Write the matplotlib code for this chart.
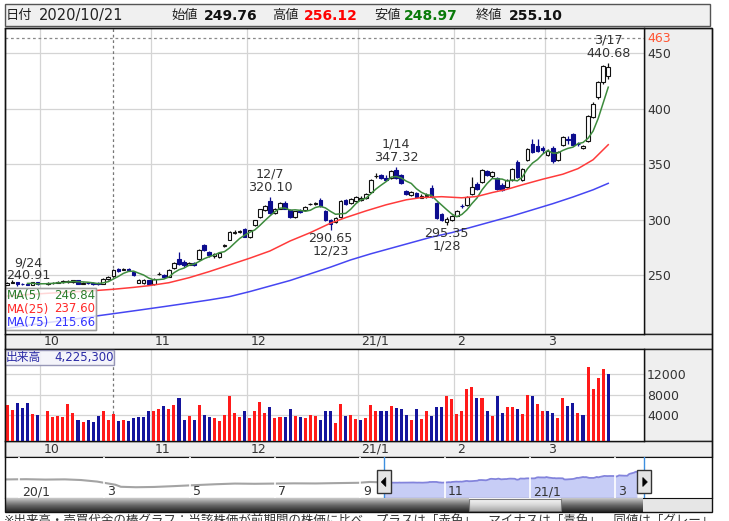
import numpy as np
import pandas as pd
import matplotlib
matplotlib.use('Agg')
import matplotlib.pyplot as plt
from matplotlib.patches import Rectangle, Polygon
from matplotlib.colors import LinearSegmentedColormap

plt.rcParams['font.family'] = ['DejaVu Sans', 'Noto Sans CJK JP']

# 日足（チャートから読み取り、10/1 は終日売買停止で値なし）
dates = [
    '2020-09-18', '2020-09-23', '2020-09-24', '2020-09-25', '2020-09-28', '2020-09-29', '2020-09-30',
    '2020-10-01', '2020-10-02', '2020-10-05', '2020-10-06', '2020-10-07', '2020-10-08', '2020-10-09',
    '2020-10-12', '2020-10-13', '2020-10-14', '2020-10-15', '2020-10-16', '2020-10-19', '2020-10-20',
    '2020-10-21', '2020-10-22', '2020-10-23', '2020-10-26', '2020-10-27', '2020-10-28', '2020-10-29',
    '2020-10-30',
    '2020-11-02', '2020-11-04', '2020-11-05', '2020-11-06', '2020-11-09', '2020-11-10', '2020-11-11',
    '2020-11-12', '2020-11-13', '2020-11-16', '2020-11-17', '2020-11-18', '2020-11-19', '2020-11-20',
    '2020-11-24', '2020-11-25', '2020-11-26', '2020-11-27', '2020-11-30',
    '2020-12-01', '2020-12-02', '2020-12-03', '2020-12-04', '2020-12-07', '2020-12-08', '2020-12-09',
    '2020-12-10', '2020-12-11', '2020-12-14', '2020-12-15', '2020-12-16', '2020-12-17', '2020-12-18',
    '2020-12-21', '2020-12-22', '2020-12-23', '2020-12-24', '2020-12-25', '2020-12-28', '2020-12-29',
    '2020-12-30',
    '2021-01-04', '2021-01-05', '2021-01-06', '2021-01-07', '2021-01-08', '2021-01-12', '2021-01-13',
    '2021-01-14', '2021-01-15', '2021-01-18', '2021-01-19', '2021-01-20', '2021-01-21', '2021-01-22',
    '2021-01-25', '2021-01-26', '2021-01-27', '2021-01-28', '2021-01-29',
    '2021-02-01', '2021-02-02', '2021-02-03', '2021-02-04', '2021-02-05', '2021-02-08', '2021-02-09',
    '2021-02-10', '2021-02-12', '2021-02-15', '2021-02-16', '2021-02-17', '2021-02-18', '2021-02-19',
    '2021-02-22', '2021-02-24', '2021-02-25', '2021-02-26',
    '2021-03-01', '2021-03-02', '2021-03-03', '2021-03-04', '2021-03-05', '2021-03-08', '2021-03-09',
    '2021-03-10', '2021-03-11', '2021-03-12', '2021-03-15', '2021-03-16', '2021-03-17',
]
opens = [
    241.5, 243.5, 244.0, 242.5, 242.5, 241.8, 244.0,
    None, 242.3, 243.0, 243.5, 244.0, 244.5, 243.8, 245.5, 242.5, 243.5, 243.2, 243.0, 242.5, 246.5,
    249.76, 255.5, 255.0, 255.8, 253.0, 243.5, 243.0, 245.5,
    242.5, 251.0, 250.5, 249.0, 256.5, 265.0, 262.0, 259.5, 261.0, 264.5, 277.5, 271.0, 267.5, 266.5,
    276.5, 282.0, 288.5, 289.0, 291.5,
    285.0, 295.0, 302.5, 309.0, 316.5, 306.5, 310.0, 315.5, 308.5, 302.5, 308.0, 308.5, 314.0, 314.5,
    318.0, 307.5, 299.5, 298.0, 302.5, 318.0, 315.0, 316.5,
    318.0, 319.5, 325.0, 339.0, 340.0, 338.0, 337.5, 345.0, 340.0, 326.0, 322.0, 324.0, 320.0, 321.0,
    329.0, 315.0, 305.0, 298.0, 300.0,
    303.5, 312.5, 313.0, 323.5, 332.5, 334.0, 343.5, 339.0, 337.5, 331.0, 329.5, 335.5, 352.0, 336.0,
    353.5, 368.0, 366.5, 364.5,
    358.5, 365.0, 353.5, 367.5, 372.5, 377.0, 368.5, 364.5, 370.5, 392.5, 410.5, 424.0, 429.0,
]
highs = [
    244.0, 245.5, 244.5, 243.5, 243.0, 244.5, 244.5,
    None, 243.8, 244.5, 244.8, 245.5, 246.0, 246.0, 246.0, 244.0, 244.5, 243.8, 244.0, 247.5, 249.5,
    256.12, 256.5, 257.0, 257.0, 254.0, 247.0, 246.5, 246.0,
    247.5, 253.0, 251.5, 255.5, 262.0, 271.0, 263.5, 262.5, 262.0, 274.0, 278.5, 272.0, 270.0, 271.0,
    278.5, 290.0, 290.5, 291.0, 292.5,
    291.0, 300.0, 310.0, 313.0, 320.10, 310.5, 316.0, 316.5, 309.5, 308.0, 309.5, 312.0, 315.5, 316.0,
    319.5, 308.5, 300.5, 302.5, 318.0, 319.0, 319.5, 321.0,
    321.5, 324.5, 336.5, 342.0, 341.5, 340.0, 345.0, 347.32, 341.0, 327.0, 326.0, 325.0, 323.0, 324.0,
    331.0, 316.0, 306.0, 302.5, 304.0,
    309.0, 314.0, 321.0, 338.5, 334.0, 345.5, 345.0, 344.0, 338.5, 333.0, 336.5, 347.0, 353.5, 347.0,
    365.0, 373.0, 373.0, 366.5,
    364.0, 366.0, 362.0, 375.0, 375.0, 378.0, 369.5, 367.0, 394.0, 405.5, 425.0, 439.5, 440.68,
]
lows = [
    241.0, 243.0, 240.91, 241.2, 241.3, 241.5, 241.8,
    None, 241.6, 242.5, 242.8, 243.5, 243.0, 243.2, 242.0, 242.0, 242.0, 241.5, 241.4, 242.0, 246.0,
    248.97, 253.0, 254.5, 254.5, 249.5, 243.0, 242.5, 241.3,
    241.5, 250.0, 247.5, 248.5, 256.0, 259.5, 258.0, 259.0, 258.5, 264.0, 272.0, 267.0, 266.0, 266.0,
    275.5, 281.5, 287.0, 288.0, 284.5,
    284.0, 294.5, 302.0, 308.0, 305.0, 305.0, 309.5, 309.5, 301.5, 301.5, 306.0, 308.0, 313.0, 313.5,
    311.5, 299.0, 290.65, 297.0, 302.0, 313.5, 314.0, 316.0,
    316.5, 318.5, 324.5, 337.5, 336.5, 334.5, 337.0, 337.0, 332.0, 322.5, 321.5, 319.5, 319.5, 320.0,
    319.5, 301.0, 299.0, 295.35, 299.0,
    303.0, 310.5, 312.5, 322.5, 327.0, 333.5, 339.5, 338.0, 327.0, 326.0, 328.5, 334.5, 337.5, 335.0,
    352.5, 360.0, 361.0, 360.0,
    357.5, 351.0, 352.5, 366.5, 368.0, 366.5, 366.0, 363.5, 369.5, 391.5, 409.0, 422.0, 427.0,
]
closes = [
    243.5, 244.5, 242.5, 242.0, 241.8, 244.0, 242.2,
    None, 243.0, 243.6, 244.2, 244.6, 245.0, 245.5, 242.5, 243.5, 243.0, 242.3, 241.9, 246.4, 248.5,
    255.10, 254.0, 255.5, 255.0, 250.0, 246.0, 245.5, 242.0,
    246.5, 251.5, 248.5, 254.8, 261.0, 260.0, 259.0, 261.5, 259.5, 273.0, 272.5, 268.0, 269.0, 270.0,
    277.5, 289.0, 289.5, 290.0, 285.0,
    290.5, 299.5, 309.5, 312.0, 306.0, 309.5, 315.5, 310.0, 302.5, 307.5, 307.0, 311.5, 314.5, 315.0,
    312.5, 300.0, 296.0, 301.5, 317.0, 314.5, 318.5, 320.5,
    319.5, 323.5, 335.5, 339.5, 337.5, 335.5, 344.0, 338.0, 333.0, 323.5, 325.0, 320.5, 321.5, 322.5,
    320.5, 302.0, 300.0, 301.0, 303.0,
    308.0, 312.0, 320.5, 329.5, 328.0, 344.5, 340.5, 343.0, 328.0, 327.0, 335.5, 346.0, 338.5, 345.5,
    364.0, 361.0, 362.0, 362.5,
    362.0, 352.5, 361.0, 374.0, 371.5, 367.5, 368.0, 366.5, 393.0, 404.0, 423.5, 438.5, 437.0,
]
prev_close = 242.0  # 9/17 終値

# 出来高（千株）
volumes = [
    6070, 4970, 6450, 5420, 6450, 4140, 4070,
    None, 4720, 3680, 3880, 3680, 6260, 4520, 2980, 2590, 2980, 2590, 3940, 4720, 2980,
    4225.3, 2780, 2980, 2780, 3430, 3680, 3680, 4720,
    4720, 5170, 5810, 5170, 6070, 7360, 2980, 3880, 2980, 6070, 4070, 3680, 3430, 2780,
    4070, 7740, 4330, 3680, 4720,
    3430, 4910, 6650, 4520, 5680, 3430, 3680, 3680, 5170, 3880, 3680, 3430, 4070, 3940,
    2980, 4720, 4910, 2530, 6260, 3940, 4070, 3170,
    2980, 3430, 6000, 4720, 4720, 4910, 5810, 5420, 5170, 4070, 2980, 5170, 3170, 4720,
    3940, 5620, 5620, 7740, 7100,
    4260, 4910, 9090, 9480, 7360, 7360, 4720, 3880, 7740, 4520, 5620, 5620, 5170, 4260,
    8000, 7740, 6260, 4910,
    4910, 4460, 3430, 7360, 5810, 6450, 4520, 4070, 13410, 9090, 11220, 12960, 12060,
]

# 移動平均（25日・75日）はチャートの線から読み取り
ma25_dates = ['2020-09-18', '2020-09-28', '2020-10-02', '2020-10-08', '2020-10-15', '2020-10-21',
              '2020-10-27', '2020-10-30', '2020-11-06', '2020-11-12', '2020-11-18', '2020-11-25',
              '2020-12-01', '2020-12-07', '2020-12-11', '2020-12-17', '2020-12-23', '2020-12-28',
              '2021-01-05', '2021-01-12', '2021-01-18', '2021-01-21', '2021-01-27', '2021-02-02',
              '2021-02-05', '2021-02-10', '2021-02-16', '2021-02-19', '2021-02-26', '2021-03-04',
              '2021-03-09', '2021-03-12', '2021-03-17']
ma25_vals = [231.5, 232.8, 234.0, 235.0, 236.3, 237.6, 239.3, 240.8, 243.5, 248.0, 253.5, 259.5,
             265.5, 272.0, 281.0, 288.5, 297.0, 302.0, 308.0, 313.5, 318.0, 320.0, 320.8, 319.8,
             321.0, 324.5, 327.5, 331.5, 336.5, 341.0, 346.0, 354.0, 367.5]
ma75_dates = ['2020-09-18', '2020-09-30', '2020-10-08', '2020-10-15', '2020-10-21', '2020-10-28',
              '2020-11-05', '2020-11-12', '2020-11-18', '2020-11-25', '2020-12-01', '2020-12-07',
              '2020-12-11', '2020-12-17', '2020-12-23', '2020-12-29', '2021-01-06', '2021-01-13',
              '2021-01-19', '2021-01-25', '2021-01-29', '2021-02-04', '2021-02-10', '2021-02-17',
              '2021-02-24', '2021-03-02', '2021-03-08', '2021-03-12', '2021-03-17']
ma75_vals = [202.5, 206.5, 210.0, 213.2, 215.66, 218.8, 222.0, 225.3, 228.0, 231.0, 235.5, 240.5,
             245.5, 251.5, 257.5, 264.0, 269.5, 274.5, 279.5, 284.5, 288.5, 293.5, 298.5, 303.5,
             309.0, 314.5, 320.5, 327.0, 332.8]

# ナビゲーター（表示期間より前の終値の推移）
nav_dates = ['2019-12-20', '2020-01-06', '2020-01-20', '2020-02-03', '2020-02-14', '2020-02-25',
             '2020-03-09', '2020-03-13', '2020-03-24', '2020-04-06', '2020-04-20', '2020-05-07',
             '2020-05-20', '2020-06-03', '2020-06-17', '2020-07-01', '2020-07-15', '2020-07-31',
             '2020-08-14', '2020-08-31', '2020-09-08', '2020-09-15']
nav_close = [300, 305, 298, 302, 290, 262, 205, 168, 160, 165, 180, 200,
             214, 226, 222, 226, 230, 228, 234, 240, 255, 250]
nav_range = ('2020-09-18', '2021-03-22')

cross_date = '2020-10-21'
marks = [('2020-09-24', 'low'), ('2020-12-07', 'high'), ('2020-12-23', 'low'),
         ('2021-01-14', 'high'), ('2021-01-28', 'low'), ('2021-03-17', 'high')]

footer = '※出来高・売買代金の棒グラフ：当該株価が前期間の株価に比べ、プラスは「赤色」、マイナスは「青色」、同値は「グレー」'

# ---------------------------------------------------------------
df = pd.DataFrame({'date': pd.to_datetime(dates), 'open': opens, 'high': highs,
                   'low': lows, 'close': closes, 'volume': volumes}).astype(
    {'open': float, 'high': float, 'low': float, 'close': float, 'volume': float})
df['x'] = np.arange(len(df))
pos = dict(zip(dates, df['x']))
trade = df.dropna(subset=['close']).copy()
trade['ma5'] = trade['close'].rolling(5).mean()
prev = trade['close'].shift(1).fillna(prev_close)
trade['plus'] = trade['close'] >= prev
trade['candle_up'] = trade['close'] >= trade['open']

W, H = 729, 521
PX0, PX_DAY = 7.3, 5.05          # 1本目の中心x(px)と1日あたりのpx
NAV_PX0, NAV_PX_MONTH = 19.3, 42.55

fig = plt.figure(figsize=(W / 100, H / 100), dpi=100)


def frac(x0, y0, x1, y1):
    return [x0 / W, 1 - y1 / H, (x1 - x0) / W, (y1 - y0) / H]


def rect(x0, y0, x1, y1, fc, ec='#222222', lw=1.0, z=-1, alpha=None):
    r = Rectangle((x0 / W, 1 - y1 / H), (x1 - x0) / W, (y1 - y0) / H, transform=fig.transFigure,
                  facecolor=fc, edgecolor=ec, linewidth=lw, zorder=z, alpha=alpha)
    fig.add_artist(r)


def ftext(x, y, s, **kw):
    kw.setdefault('va', 'center')
    kw.setdefault('zorder', 8)
    fig.text(x / W, 1 - y / H, s, **kw)


# 背景パネル
rect(5, 4, 710, 26, '#f0f0f0', ec='#555555')
rect(644, 28, 712, 334, '#efefef')
rect(5, 334, 712, 349, '#efefef')
rect(644, 349, 712, 441, '#efefef')
rect(5, 441, 712, 457, '#efefef')
rect(643, 498, 712, 512, '#e6e6e6', ec='none')

ax_p = fig.add_axes(frac(5, 28, 644, 334))
ax_v = fig.add_axes(frac(5, 349, 644, 441))
ax_n = fig.add_axes(frac(5, 457, 712, 498))
ax_s = fig.add_axes(frac(5, 498, 643, 511.5))

xlim = ((5 - PX0) / PX_DAY, (644 - PX0) / PX_DAY)

# 月の区切り
bounds, mlabels = [], []
for i in range(1, len(df)):
    d, p = df['date'].iloc[i], df['date'].iloc[i - 1]
    if d.month != p.month:
        bounds.append(i - 0.5)
        mlabels.append(f'{d.year % 100}/1' if d.month == 1 else str(d.month))

grid_c = '#d4d4d4'
for ax in (ax_p, ax_v):
    ax.set_xlim(*xlim)
    ax.set_xticks(bounds)
    ax.tick_params(axis='x', length=0, labelbottom=False)
    ax.yaxis.tick_right()
    ax.tick_params(axis='y', length=0, pad=2.2, labelsize=9, labelcolor='#333333')
    ax.grid(True, color=grid_c, lw=0.9)
    ax.set_axisbelow(True)
    for s in ax.spines.values():
        s.set_color('#111111')
        s.set_linewidth(1.0)

# ---- 価格チャート ----
ax_p.set_ylim(197.4, 472.4)
ax_p.set_yticks([250, 300, 350, 400, 450])
x_cross = pos[cross_date]
ax_p.axvline(x_cross, color='#777777', lw=0.9, ls=(0, (2.2, 2.2)), zorder=2)
ax_p.axhline(463, color='#8a8a8a', lw=0.9, ls=(0, (2.2, 2.2)), zorder=2)
ax_p.annotate('463', xy=(1, 463), xycoords=('axes fraction', 'data'), xytext=(2.2, 0),
              textcoords='offset points', ha='left', va='center', fontsize=9, color='#ff5533')

navy = '#0c0c8e'
edge = np.where(trade['candle_up'], '#111111', navy)
face = np.where(trade['candle_up'], 'white', navy)
ax_p.vlines(trade['x'], trade['low'], trade['high'], colors=edge, lw=0.9, zorder=3)
ax_p.bar(trade['x'], trade['close'] - trade['open'], bottom=trade['open'], width=0.72,
         color=face, edgecolor=edge, linewidth=0.8, zorder=4)

ax_p.plot(trade['x'], trade['ma5'], color='#3d8b3d', lw=1.1, zorder=5)
ax_p.plot([pos[d] for d in ma25_dates], ma25_vals, color='#ff3b3b', lw=1.1, zorder=5)
ax_p.plot([pos[d] for d in ma75_dates], ma75_vals, color='#4646f2', lw=1.1, zorder=5)

for d, kind in marks:
    r = trade.loc[trade['date'] == pd.Timestamp(d)].iloc[0]
    md = f'{r.date.month}/{r.date.day}'
    if kind == 'high':
        txt, val, va, dy = f'{md}\n{r.high:.2f}', r.high, 'bottom', 2.5
    elif r.x < 5:
        txt, val, va, dy = f'{md}\n{r.low:.2f}', r.low, 'bottom', 2.5
    else:
        txt, val, va, dy = f'{r.low:.2f}\n{md}', r.low, 'top', -1.2
    if r.x < 5:
        ax_p.annotate(txt, xy=(xlim[0], val), xytext=(0.5, dy), textcoords='offset points',
                      ha='left', va=va, multialignment='center', fontsize=9.2, color='#333333',
                      linespacing=1.0, zorder=6)
    else:
        ax_p.annotate(txt, xy=(r.x, val), xytext=(0, dy), textcoords='offset points',
                      ha='center', va=va, multialignment='center', fontsize=9.2, color='#333333',
                      linespacing=1.0, zorder=6)

for b, lab in zip(bounds, mlabels):
    ax_p.annotate(lab, xy=(b, 0), xycoords=('data', 'axes fraction'), xytext=(2.2, -5.4),
                  textcoords='offset points', ha='left', va='center', fontsize=9, color='#333333')
    ax_v.annotate(lab, xy=(b, 0), xycoords=('data', 'axes fraction'), xytext=(2.2, -5.8),
                  textcoords='offset points', ha='left', va='center', fontsize=9, color='#333333')

# MA 凡例
row = trade.loc[trade['date'] == pd.Timestamp(cross_date)].iloc[0]
ma_now = [('MA(5)', row.ma5, '#2c7d2c'),
          ('MA(25)', dict(zip(ma25_dates, ma25_vals))[cross_date], '#ff2a2a'),
          ('MA(75)', dict(zip(ma75_dates, ma75_vals))[cross_date], '#3434ff')]
rect(4.5, 288, 96.5, 329.5, 'white', ec='#a0a0a0', z=6, alpha=0.8)
rect(4.5, 288, 96.5, 329.5, 'none', ec='#a0a0a0', z=6)
for k, (lab, v, c) in enumerate(ma_now):
    y = 295.5 + 13.5 * k
    ftext(6.5, y, lab, fontsize=8.5, color=c, ha='left')
    ftext(95, y, f'{v:.2f}', fontsize=8.5, color=c, ha='right')

# ---- 出来高 ----
vlo, vhi = -1000, 16830
ax_v.set_ylim(vlo, vhi)
ax_v.set_yticks([4000, 8000, 12000])
ax_v.set_yticklabels(['4000', '8000', '12000'])
ax_v.bar(trade['x'], trade['volume'] - vlo, bottom=vlo, width=0.6,
         color=np.where(trade['plus'], '#ff1a1a', '#14149c'), zorder=3)
ax_v.axvline(x_cross, color='#777777', lw=0.9, ls=(0, (2.2, 2.2)), zorder=2)
rect(4.5, 349.5, 114, 365, '#f3f3fa', ec='#8c8cb0', z=6, alpha=0.9)
ftext(6, 357.5, '出来高', fontsize=8.5, color='#2a2aa6', ha='left')
ftext(113.5, 357.5, f'{row.volume * 1000:,.0f}', fontsize=8.5, color='#2a2aa6', ha='right')

# ---- ヘッダー ----
ftext(6, 15.5, '日付', fontsize=9.5, color='#222222', ha='left')
ftext(39, 15.5, row.date.strftime('%Y/%m/%d'), fontsize=10.5, color='#222222', ha='left')
head = [('始値', f'{row.open:.2f}', '#111111', 171, 204),
        ('高値', f'{row.high:.2f}', '#ff0000', 272, 304),
        ('安値', f'{row.low:.2f}', '#0a7a0a', 374, 404),
        ('終値', f'{row.close:.2f}', '#111111', 476, 509)]
for lab, val, c, xl, xv in head:
    ftext(xl, 15.5, lab, fontsize=9.5, color='#222222', ha='left')
    ftext(xv, 15.5, val, fontsize=10, color=c, ha='left', fontweight='bold')


# ---- ナビゲーター ----
def to_month(d):
    d = pd.Timestamp(d)
    return (d.year - 2020) * 12 + d.month - 1 + (d.day - 1) / d.days_in_month


nlo = -34
ax_n.set_xlim((5 - NAV_PX0) / NAV_PX_MONTH, (712 - NAV_PX0) / NAV_PX_MONTH)
ax_n.set_ylim(nlo, 705)
t_hist = [to_month(d) for d in nav_dates] + [to_month(trade['date'].iloc[0])]
p_hist = nav_close + [trade['close'].iloc[0]]
t_sel = trade['date'].map(to_month)
ax_n.plot(t_hist, p_hist, color='#a4a4a4', lw=1.5, zorder=2)
ax_n.fill_between(t_sel, trade['close'], nlo, color='#c7cdf6', lw=0, zorder=1)
ax_n.plot(t_sel, trade['close'], color='#8384dc', lw=1.3, zorder=2)
for k in range(0, 15, 2):
    mon, yr = k % 12 + 1, 2020 + k // 12
    ax_n.axvline(k, color='white', lw=1.2, zorder=3)
    ax_n.annotate(f'{yr % 100}/1' if mon == 1 else str(mon), xy=(k, 0),
                  xycoords=('data', 'axes fraction'), xytext=(2.2, 4.5), textcoords='offset points',
                  ha='left', va='center', fontsize=9, color='#333333', zorder=4)
for d in nav_range:
    ax_n.axvline(to_month(d), color='#3d8fe0', lw=1.0, zorder=4)
ax_n.set_xticks([])
ax_n.set_yticks([])
for s in ax_n.spines.values():
    s.set_color('#111111')

for k, d in enumerate(nav_range):
    cx = NAV_PX0 + to_month(d) * NAV_PX_MONTH
    rect(cx - 7, 470, cx + 7, 493, '#e4e4e4', ec='#333333', z=7)
    sgn = -1 if k == 0 else 1
    tri = [((cx + 1.5 * -sgn + 0.5) / W, 1 - 477.5 / H), ((cx - 1.5 * sgn + 0.5) / W, 1 - 486.5 / H),
           ((cx + 3 * sgn + 0.5) / W, 1 - 482 / H)]
    fig.add_artist(Polygon(tri, closed=True, transform=fig.transFigure, facecolor='black',
                           edgecolor='black', lw=0.5, zorder=8))

# ---- スクロールバー ----
grad = np.linspace(0, 1, 32).reshape(-1, 1)
ax_s.imshow(grad, cmap=LinearSegmentedColormap.from_list('sb', ['#c8c8c8', '#6a6a6a', '#262626']),
            extent=(5, 643, 511.5, 498), aspect='auto')
ax_s.imshow(grad, cmap=LinearSegmentedColormap.from_list('th', ['#fbfbfb', '#dadada', '#a9a9a9']),
            extent=(469, 561, 511, 498.5), aspect='auto')
ax_s.add_patch(Rectangle((469, 498.5), 92, 12.5, facecolor='none', edgecolor='#7a7a7a', lw=0.8))
ax_s.set_xlim(5, 643)
ax_s.set_ylim(511.5, 498)
ax_s.axis('off')

rect(5, 28, 712, 512, 'none', ec='#111111', z=9)
# 参考画像と同じく下端で切れる注記
ftext(4, 514.5, footer, fontsize=9, color='#333333', ha='left', va='top')

fig.savefig('out.png', dpi=100)
